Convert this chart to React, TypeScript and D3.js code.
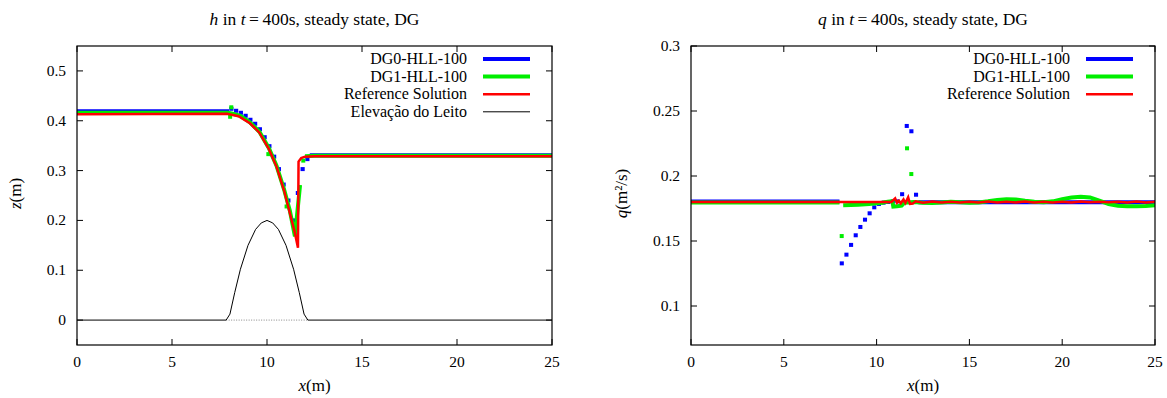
import { useEffect, useRef } from "react";
import * as d3 from "d3";

const W = 1167,
  H = 398;
const FONT = "Liberation Serif, DejaVu Serif, Times, serif";

const xTicks = [0, 5, 10, 15, 20, 25];
const hTicks = [0, 0.1, 0.2, 0.3, 0.4, 0.5];
const qTicks = [0.1, 0.15, 0.2, 0.25, 0.3];

const legendLabels = ["DG0-HLL-100", "DG1-HLL-100", "Reference Solution", "Elevação do Leito"];
const seriesColors = ["#0000ff", "#00ee00", "#ff0000", "#000000"];
const seriesWidths = [4, 4, 2.5, 1];

// ---- h panel (water surface) ----
// DG0: flat parts [x0, x1, value] + cell centres/values in the transition
const hDG0Flat = [
  [0, 8.0, 0.419],
  [12.25, 25, 0.331],
];
const hDG0CellX = [8.125, 8.375, 8.625, 8.875, 9.125, 9.375, 9.625, 9.875, 10.125, 10.375, 10.625, 10.875, 11.125, 11.375, 11.625, 11.875, 12.125];
const hDG0CellV = [0.424, 0.42, 0.416, 0.41, 0.402, 0.394, 0.383, 0.367, 0.349, 0.328, 0.303, 0.272, 0.24, 0.2, 0.255, 0.303, 0.323];

const hDG1X = [0, 7.95, 8.2, 8.6, 9.1, 9.6, 10.1, 10.5, 10.9, 11.2, 11.47, 11.74, null, 12.0, 12.5, 25];
const hDG1V = [0.416, 0.416, 0.414, 0.41, 0.397, 0.378, 0.345, 0.31, 0.262, 0.22, 0.168, 0.271, null, 0.329, 0.33, 0.33];
const hDG1PtsX = [8.06, 8.12, 10.07, 11.03, 11.91];
const hDG1PtsV = [0.408, 0.427, 0.333, 0.228, 0.32];

const hRefX = [0, 7.9, 8.5, 9.1, 9.6, 10.1, 10.5, 10.9, 11.2, 11.45, 11.63, 11.66, 11.8, 12.0, 12.5, 25];
const hRefV = [0.413, 0.414, 0.409, 0.395, 0.376, 0.343, 0.308, 0.26, 0.215, 0.178, 0.145, 0.318, 0.325, 0.328, 0.329, 0.329];

const bedX = [0, 7.85, 8.05, 8.3, 8.6, 9.0, 9.4, 9.7, 10.0, 10.3, 10.6, 11.0, 11.4, 11.7, 11.95, 12.15, 25];
const bedZ = [0, 0, 0.012, 0.055, 0.102, 0.15, 0.182, 0.195, 0.2, 0.195, 0.182, 0.15, 0.102, 0.055, 0.012, 0, 0];

// ---- q panel (discharge) ----
const qDG0Flat = [
  [0, 8.0, 0.1803],
  [12.25, 25, 0.1799],
];
const qDG0CellX = [8.125, 8.375, 8.625, 8.875, 9.125, 9.375, 9.625, 9.875, 10.125, 10.375, 10.625, 10.875, 11.125, 11.375, 11.625, 11.875, 12.125];
const qDG0CellV = [0.1328, 0.1395, 0.147, 0.1544, 0.1608, 0.1664, 0.1713, 0.1759, 0.1785, 0.1795, 0.18, 0.1805, 0.1805, 0.186, 0.2385, 0.2344, 0.1856];

const qDG1X = [0, 8.0, null, 8.2, 9.0, 9.6, 10.0, 10.3, 10.6, 10.85, 10.9, 11.1, 11.35, 11.5, 12.0, 12.5, 13, 13.5, 14, 14.5, 15, 15.5, 16, 16.5, 17, 17.5, 18, 18.5, 19, 19.5, 20, 20.5, 21, 21.5, 22, 22.5, 23, 23.5, 24, 24.5, 25];
const qDG1V = [0.1797, 0.1797, null, 0.1775, 0.1778, 0.1785, 0.179, 0.1795, 0.1803, 0.1807, 0.1765, 0.1768, 0.1772, 0.1795, 0.18, 0.1795, 0.1793, 0.1797, 0.1802, 0.1798, 0.1795, 0.1797, 0.1805, 0.1815, 0.1822, 0.182, 0.181, 0.1802, 0.1798, 0.1805, 0.1822, 0.1835, 0.184, 0.1835, 0.181, 0.1785, 0.1772, 0.1768, 0.1768, 0.177, 0.1775];
const qDG1PtsX = [8.12, 11.64, 11.87];
const qDG1PtsV = [0.1538, 0.2213, 0.2015];

const qRefX = [0, 10.8, 11.0, 11.1, 11.2, 11.3, 11.45, 11.55, 11.7, 11.8, 11.95, 12.1, 12.5, 13, 13.5, 14, 14.5, 15, 15.5, 16, 16.5, 17, 17.5, 18, 18.5, 19, 19.5, 20, 20.5, 21, 21.5, 22, 22.5, 23, 23.5, 24, 24.5, 25];
const qRefV = [0.18, 0.18, 0.1828, 0.1795, 0.181, 0.179, 0.182, 0.1792, 0.1836, 0.1785, 0.1788, 0.1805, 0.1795, 0.1803, 0.1797, 0.1802, 0.1796, 0.1801, 0.1797, 0.1803, 0.1797, 0.1802, 0.1797, 0.1803, 0.1797, 0.1801, 0.1797, 0.1802, 0.1797, 0.1803, 0.1798, 0.1801, 0.1798, 0.1802, 0.1797, 0.1804, 0.1797, 0.1801];

const panels = [
  {
    left: 77, right: 552, top: 46, bottom: 345,
    yDomain: [-0.05, 0.55], yTicks: hTicks, yFmt: (d) => (d === 0 ? "0" : String(d)),
    title: ["h", " in ", "t", "\u2009=\u2009400s, steady state, DG"],
    ylab: ["z", "(m)"], ylabX: 16,
    dg0Flat: hDG0Flat, dg0X: hDG0CellX, dg0V: hDG0CellV,
    dg1X: hDG1X, dg1V: hDG1V, dg1PX: hDG1PtsX, dg1PV: hDG1PtsV,
    refX: hRefX, refV: hRefV, bed: true, nLegend: 4,
  },
  {
    left: 691, right: 1155, top: 46, bottom: 345,
    yDomain: [0.07, 0.3], yTicks: qTicks, yFmt: (d) => String(d),
    title: ["q", " in ", "t", "\u2009=\u2009400s, steady state, DG"],
    ylab: ["q", "(m²/s)"], ylabX: 622,
    dg0Flat: qDG0Flat, dg0X: qDG0CellX, dg0V: qDG0CellV,
    dg1X: qDG1X, dg1V: qDG1V, dg1PX: qDG1PtsX, dg1PV: qDG1PtsV,
    refX: qRefX, refV: qRefV, bed: false, nLegend: 3,
  },
];

export default function App() {
  const svgRef = useRef(null);

  useEffect(() => {
    const svg = d3.select(svgRef.current);
    svg.selectAll("*").remove();
    panels.forEach((p) => drawPanel(svg, p));
  }, []);

  const drawPanel = (svg, p) => {
    const x = d3.scaleLinear().domain([0, 25]).range([p.left, p.right]);
    const y = d3.scaleLinear().domain(p.yDomain).range([p.bottom, p.top]);
    const g = svg.append("g").style("font-family", FONT);
    const clipId = "clip" + p.left;
    svg.append("clipPath").attr("id", clipId)
      .append("rect").attr("x", p.left).attr("y", p.top)
      .attr("width", p.right - p.left).attr("height", p.bottom - p.top);
    const data = g.append("g").attr("clip-path", `url(#${clipId})`);

    const line = d3.line()
      .defined((d) => d[0] !== null)
      .x((d) => x(d[0]))
      .y((d) => y(d[1]));
    const zip = (xs, vs) => xs.map((v, i) => [v, vs[i]]);

    // DG0 - piecewise constant cells
    p.dg0Flat.forEach(([a, b, v]) => {
      data.append("line").attr("x1", x(a)).attr("x2", x(b)).attr("y1", y(v)).attr("y2", y(v))
        .attr("stroke", seriesColors[0]).attr("stroke-width", seriesWidths[0]);
    });
    data.selectAll(".cell").data(zip(p.dg0X, p.dg0V)).enter().append("line")
      .attr("x1", (d) => x(d[0] - 0.11)).attr("x2", (d) => x(d[0] + 0.11))
      .attr("y1", (d) => y(d[1])).attr("y2", (d) => y(d[1]))
      .attr("stroke", seriesColors[0]).attr("stroke-width", seriesWidths[0]);

    // DG1
    data.append("path").attr("d", line(zip(p.dg1X, p.dg1V)))
      .attr("fill", "none").attr("stroke", seriesColors[1]).attr("stroke-width", seriesWidths[1]);
    data.selectAll(".pt").data(zip(p.dg1PX, p.dg1PV)).enter().append("rect")
      .attr("x", (d) => x(d[0]) - 2).attr("y", (d) => y(d[1]) - 2)
      .attr("width", 4).attr("height", 4).attr("fill", seriesColors[1]);

    // reference
    data.append("path").attr("d", line(zip(p.refX, p.refV)))
      .attr("fill", "none").attr("stroke", seriesColors[2]).attr("stroke-width", seriesWidths[2]);

    if (p.bed) {
      data.append("line").attr("x1", x(bedX[1])).attr("x2", x(bedX[bedX.length - 2]))
        .attr("y1", y(0)).attr("y2", y(0))
        .attr("stroke", "#555").attr("stroke-width", 0.7).attr("stroke-dasharray", "1,1.5");
      data.append("path").attr("d", line(zip(bedX, bedZ)))
        .attr("fill", "none").attr("stroke", seriesColors[3]).attr("stroke-width", seriesWidths[3]);
    }

    // ticks (inward, mirrored)
    const tk = 6;
    xTicks.forEach((t) => {
      g.append("line").attr("x1", x(t)).attr("x2", x(t)).attr("y1", p.bottom).attr("y2", p.bottom - tk).attr("stroke", "#000");
      g.append("line").attr("x1", x(t)).attr("x2", x(t)).attr("y1", p.top).attr("y2", p.top + tk).attr("stroke", "#000");
      g.append("text").attr("x", x(t)).attr("y", 367).attr("text-anchor", "middle")
        .attr("font-size", 15.5).text(t);
    });
    p.yTicks.forEach((t) => {
      g.append("line").attr("x1", p.left).attr("x2", p.left + tk).attr("y1", y(t)).attr("y2", y(t)).attr("stroke", "#000");
      g.append("line").attr("x1", p.right).attr("x2", p.right - tk).attr("y1", y(t)).attr("y2", y(t)).attr("stroke", "#000");
      g.append("text").attr("x", p.left - 11).attr("y", y(t) + 5).attr("text-anchor", "end")
        .attr("font-size", 15.5).text(p.yFmt(t));
    });

    g.append("rect").attr("x", p.left).attr("y", p.top)
      .attr("width", p.right - p.left).attr("height", p.bottom - p.top)
      .attr("fill", "none").attr("stroke", "#000").attr("stroke-width", 1.2);

    // title
    const cx = (p.left + p.right) / 2;
    const title = g.append("text").attr("x", cx).attr("y", 25).attr("text-anchor", "middle")
      .attr("font-size", 17.5);
    p.title.forEach((s, i) => title.append("tspan").attr("font-style", i % 2 === 0 ? "italic" : "normal").text(s));

    // axis labels
    const xl = g.append("text").attr("x", cx).attr("y", 391).attr("text-anchor", "middle")
      .attr("font-size", 17);
    xl.append("tspan").attr("font-style", "italic").text("x");
    xl.append("tspan").text("(m)");
    const cy = (p.top + p.bottom) / 2 - 2;
    const yl = g.append("text").attr("transform", `translate(${p.ylabX + 5},${cy}) rotate(-90)`)
      .attr("text-anchor", "middle").attr("font-size", 17);
    yl.append("tspan").attr("font-style", "italic").text(p.ylab[0]);
    yl.append("tspan").text(p.ylab[1]);

    // legend
    for (let i = 0; i < p.nLegend; i++) {
      const ly = p.top + 13 + i * 17.6;
      g.append("text").attr("x", p.right - 85).attr("y", ly + 5).attr("text-anchor", "end")
        .attr("font-size", 16).text(legendLabels[i]);
      g.append("line").attr("x1", p.right - 69).attr("x2", p.right - 22).attr("y1", ly).attr("y2", ly)
        .attr("stroke", seriesColors[i]).attr("stroke-width", seriesWidths[i]);
    }
  };

  return (
    <svg ref={svgRef} width={W} height={H} style={{ position: "absolute", left: 0, top: 0, background: "#fff" }}></svg>
  );
}
